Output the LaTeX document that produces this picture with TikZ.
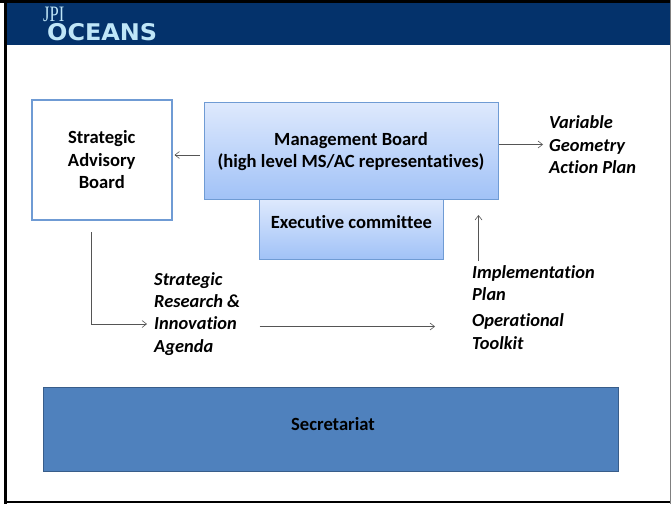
\documentclass[tikz,border=0pt]{standalone}
\usepackage{graphicx}
\usepackage{fontspec}
\setmainfont[RawFeature=-liga]{Carlito}
\newfontfamily\logoserif{Liberation Serif}
\newfontfamily\logosans{DejaVu Sans}
\usetikzlibrary{arrows.meta}
\definecolor{navy}{HTML}{04326B}
\definecolor{logoblue}{HTML}{BFE6F8}
\definecolor{gradtop}{HTML}{DEE9FD}
\definecolor{gradbot}{HTML}{A1C2F7}
\definecolor{boxedge}{HTML}{6F9BD4}
\definecolor{secfill}{HTML}{4F81BD}
\definecolor{secedge}{HTML}{385D8A}
\definecolor{linkgrey}{HTML}{555555}
\tikzset{
  x=1pt,y=-1pt,
  gradbox/.style={draw=boxedge,line width=1pt,top color=gradtop,bottom color=gradbot,inner sep=0pt},
  lbl/.style={inner sep=0pt,align=left,anchor=north west,font=\fontsize{18.4}{22.4}\selectfont\bfseries\itshape},
  link/.style={draw=linkgrey,line width=0.8pt,-{Straight Barb[length=4.5pt,width=7pt,line width=0.6pt]}},
  plain/.style={inner sep=0pt},
  boxtext/.style={inner sep=0pt,align=center,font=\fontsize{18.6}{22.5}\selectfont\bfseries}
}
\begin{document}
\begin{tikzpicture}
\useasboundingbox (0,0) rectangle (671,504);
\fill[white] (0,0) rectangle (671,504);
\fill[navy] (5,2) rectangle (670,45);
% slide frame
\fill[black] (0,0) rectangle (671,3);
\fill[black] (4,0) rectangle (7,504);
\fill[black] (4,500.5) rectangle (671,503);
\fill[gray] (669.5,0) rectangle (671,504);
% logo
\node[plain,anchor=base west,text=logoblue,font=\logoserif\fontsize{22}{22}\selectfont] (jpi) at (43,21) {\scalebox{0.75}[1]{JPI}};
\node[plain,anchor=base west,text=logoblue,font=\logosans\fontsize{23}{23}\selectfont\bfseries] (oceans) at (47,40.5) {\scalebox{1.04}[1]{OCEANS}};
% boxes
\node[gradbox,minimum width=184pt,minimum height=60pt,anchor=north west] (exec) at (259,198.5) {};
\node[boxtext] (exectxt) at (351.5,222) {Executive committee};
\node[gradbox,minimum width=294pt,minimum height=97pt,anchor=north west] (mgmt) at (204,102) {};
\node[boxtext] (mgmttxt) at (351,151.5) {Management Board\\(high level MS/AC representatives)};
\node[boxtext,draw=boxedge,line width=1.5pt,fill=white,minimum width=140pt,minimum height=120pt,anchor=north west] (sab) at (31,99) {Strategic\\Advisory\\Board};
\node[draw=secedge,line width=1.5pt,fill=secfill,minimum width=575pt,minimum height=84pt,anchor=north west,inner sep=0pt] (sec) at (42.5,386.5) {};
\node[boxtext] (sectxt) at (333,424) {Secretariat};
% labels
\node[lbl] (vg) at (549,115.5) {Variable\\Geometry\\Action Plan};
\node[lbl] (sria) at (154,272) {Strategic\\Research \&\\Innovation\\Agenda};
\node[lbl] (impl) at (472,265) {Implementation\\Plan};
\node[lbl] (tool) at (472,313.5) {Operational\\Toolkit};
% connector ends
\coordinate (a1) at (200,155);
\coordinate (a2) at (174.5,155);
\coordinate (b1) at (499,144.5);
\coordinate (b2) at (543,144.5);
\coordinate (c1) at (478.5,261);
\coordinate (c2) at (478.5,215);
\coordinate (d1) at (91,232);
\coordinate (d2) at (91,324);
\coordinate (d3) at (147,324);
\coordinate (e1) at (259.5,326.5);
\coordinate (e2) at (435,326.5);
\draw[link] (a1) -- (a2);
\draw[link] (b1) -- (b2);
\draw[link] (c1) -- (c2);
\draw[link] (d1) -- (d2) -- (d3);
\draw[link] (e1) -- (e2);
\end{tikzpicture}
\end{document}
